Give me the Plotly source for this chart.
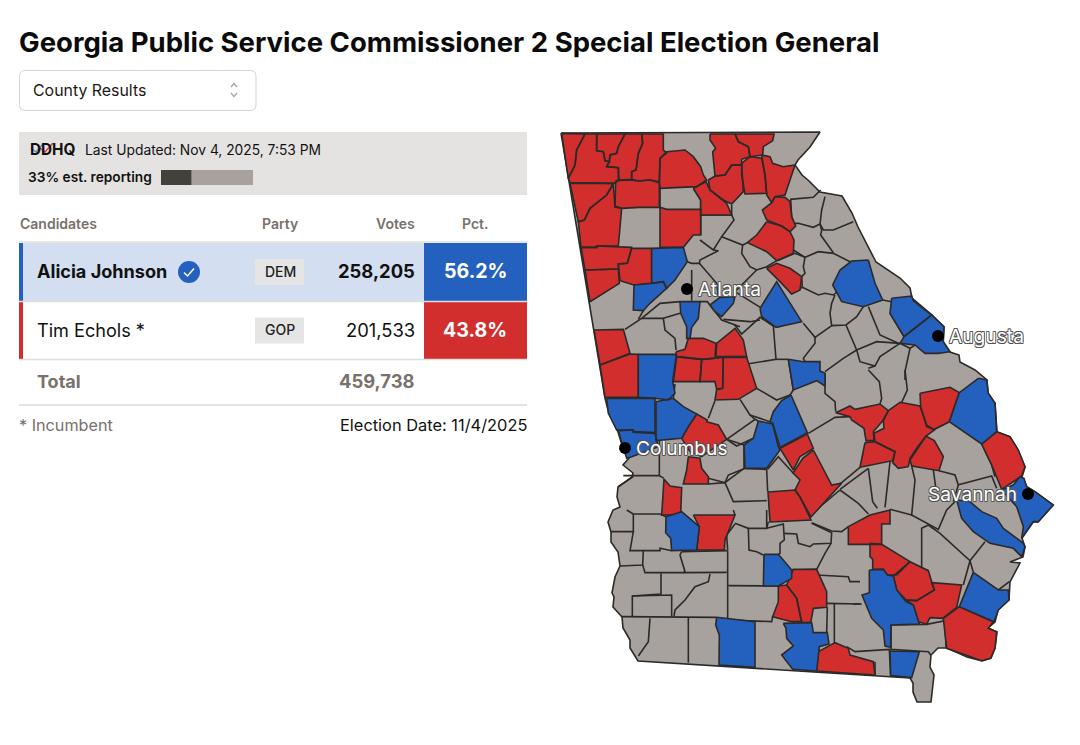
import plotly.graph_objects as go

# ---- table values
title = "Georgia Public Service Commissioner 2 Special Election General"
candidates = ["Alicia Johnson", "Tim Echols *"]
parties = ["DEM", "GOP"]
votes = ["258,205", "201,533"]
pcts = ["56.2%", "43.8%"]
total_votes = "459,738"
reporting = 33
headers = ["Candidates", "Party", "Votes", "Pct."]

# ---- cities
city_names = ["Atlanta", "Augusta", "Columbus", "Savannah"]
city_x = [687, 938, 625, 1028]
city_y = [289, 336, 448, 494]

# ---- map outline
state_outline = [
    (561, 133), (820, 132), (810, 147), (798, 160), (795, 165), (802, 175), (808, 180), (820, 192), (842, 196),
    (852, 213), (858, 227), (867, 245), (876, 262), (900, 278), (910, 288), (912, 298), (932, 315), (944, 327),
    (943, 342), (950, 352), (959, 355), (960, 362), (975, 370), (987, 380), (988, 393), (995, 403), (997, 432),
    (1010, 437), (1018, 450), (1025, 467), (1022, 477), (1027, 487), (1035, 492), (1053, 505), (1038, 522),
    (1033, 522), (1022, 538), (1025, 547), (1023, 557), (1010, 562), (1020, 563), (1010, 582), (1009, 600),
    (998, 610), (995, 622), (988, 628), (997, 632), (995, 648), (991, 658), (982, 661), (967, 657), (947, 648),
    (938, 648), (931, 655), (930, 667), (934, 675), (931, 702), (917, 702), (913, 692), (913, 683), (910, 678),
    (638, 661), (630, 648), (630, 640), (623, 628), (622, 617), (613, 607), (614, 597), (612, 593), (615, 577),
    (620, 566), (618, 552), (611, 542), (611, 532), (608, 522), (613, 510), (620, 507), (617, 497), (618, 487),
    (632, 477), (633, 473), (623, 465), (630, 457), (623, 448), (618, 432), (608, 410), (605, 398),
]

# counties per crop of the map, each as points in 3x crop pixels
red_a = [
    [(35, 40), (105, 42), (80, 90), (75, 135), (55, 175)],
    [(105, 42), (140, 42), (140, 92), (160, 95), (165, 122), (178, 125), (170, 140), (205, 143), (205, 180), (195, 190), (60, 188), (55, 175), (75, 135), (80, 90)],
    [(140, 42), (225, 42), (205, 80), (200, 100), (180, 105), (178, 125), (165, 122), (160, 95), (140, 92)],
    [(225, 42), (275, 42), (278, 70), (265, 100), (258, 150), (245, 155), (245, 178), (207, 180), (205, 143), (170, 140), (178, 125), (180, 105), (200, 100), (205, 80)],
    [(275, 42), (340, 42), (340, 90), (350, 98), (330, 115), (328, 185), (300, 180), (265, 183), (245, 178), (245, 155), (258, 150), (265, 100), (278, 70)],
    [(330, 115), (350, 95), (405, 90), (430, 110), (452, 140), (460, 165), (470, 180), (440, 200), (330, 205), (328, 185)],
    [(60, 190), (190, 190), (170, 225), (120, 265), (103, 300), (85, 305)],
    [(190, 192), (195, 262), (215, 265), (208, 330), (205, 378), (140, 378), (140, 382), (93, 382), (85, 305), (103, 300), (120, 265), (170, 225)],
    [(197, 182), (245, 180), (265, 183), (300, 180), (328, 188), (328, 262), (268, 262), (215, 265), (195, 258)],
    [(330, 262), (350, 268), (452, 268), (452, 345), (430, 345), (405, 375), (400, 382), (330, 382)],
    [(430, 205), (468, 185), (480, 210), (530, 250), (545, 285), (452, 285), (452, 240)],
    [(480, 42), (555, 42), (565, 65), (595, 80), (600, 110), (575, 118), (575, 135), (545, 135), (525, 165), (495, 168), (488, 95), (497, 85), (480, 60)],
    [(555, 42), (672, 42), (668, 62), (640, 80), (638, 105), (600, 110), (595, 80), (565, 65)],
    [(475, 180), (495, 168), (525, 165), (545, 135), (575, 135), (580, 215), (545, 252), (520, 240), (480, 210)],
    [(575, 130), (600, 110), (635, 115), (645, 165), (650, 220), (585, 222), (575, 165)],
    [(635, 105), (660, 110), (668, 130), (700, 140), (735, 135), (705, 225), (675, 230), (665, 248), (650, 225), (645, 165)],
    [(675, 230), (705, 232), (720, 245), (725, 290), (737, 318), (720, 335), (695, 318), (650, 300), (637, 270), (665, 248)],
    [(650, 305), (695, 318), (720, 335), (732, 360), (730, 400), (680, 422), (650, 395), (592, 368), (620, 345)],
    [(650, 445), (680, 430), (720, 445), (755, 470), (750, 510), (725, 522), (690, 485)],
    [(93, 382), (140, 382), (140, 378), (245, 382), (232, 430), (205, 432), (205, 447), (105, 450)],
    [(105, 450), (205, 447), (208, 490), (120, 545)],
    [(245, 385), (305, 385), (305, 490), (252, 495), (210, 482), (205, 432), (232, 430)],
]
blue_a = [
    [(305, 385), (400, 382), (412, 425), (375, 480), (350, 505), (340, 485), (305, 490)],
    [(252, 495), (310, 490), (340, 485), (350, 505), (300, 550), (280, 572), (250, 570)],
]
gray_a = [
    [(330, 205), (330, 262)],
    [(430, 205), (452, 240), (452, 345)],
    [(452, 285), (545, 285), (552, 300), (515, 350), (490, 390)],
    [(545, 255), (545, 285)],
    [(515, 350), (578, 375), (592, 368)],
    [(578, 375), (575, 400), (600, 440), (620, 450), (650, 440), (680, 422)],
    [(450, 360), (490, 390), (505, 392), (450, 420), (448, 430), (425, 430), (412, 425)],
    [(448, 430), (500, 490), (505, 530)],
    [(620, 450), (555, 515), (632, 563)],
    [(280, 572), (265, 598)],
    [(120, 545), (205, 490)],
]
red_c = [
    [(12, 60), (100, 58), (120, 130), (30, 165)],
    [(30, 165), (120, 132), (145, 133), (145, 262), (45, 262)],
    [(258, 125), (285, 118), (295, 85), (340, 85), (378, 100), (375, 145), (335, 148), (260, 140)],
    [(260, 140), (335, 148), (330, 215), (250, 215)],
    [(335, 148), (400, 142), (398, 235), (380, 238), (375, 215), (330, 215)],
    [(400, 142), (470, 142), (500, 235), (445, 268), (375, 270), (380, 238), (398, 235)],
    [(378, 140), (380, 100), (435, 55), (460, 90), (470, 140)],
    [(320, 312), (352, 330), (350, 335), (385, 345), (410, 388), (335, 440), (300, 425), (275, 385), (295, 350)],
    [(295, 440), (330, 445), (335, 475), (355, 500), (355, 522), (280, 522), (290, 480)],
    [(222, 507), (240, 528), (275, 533), (272, 615), (215, 615)],
    [(570, 415), (652, 372), (670, 415), (630, 440), (610, 480)],
    [(670, 420), (725, 525), (755, 520), (663, 621), (630, 561), (615, 540), (630, 510), (609, 489), (639, 444)],
    [(534, 546), (615, 540), (630, 561), (663, 630), (540, 636)],
]
blue_c = [
    [(145, 133), (258, 133), (258, 140), (248, 215), (255, 250), (235, 270), (195, 265), (145, 262)],
    [(50, 265), (195, 265), (195, 368), (130, 365), (130, 360), (80, 360), (55, 310)],
    [(85, 362), (130, 360), (130, 367), (195, 370), (200, 390), (205, 410), (125, 440), (110, 445), (100, 415)],
    [(198, 275), (250, 265), (280, 290), (320, 312), (295, 350), (275, 385), (198, 392)],
    [(505, 333), (548, 342), (565, 410), (570, 420), (530, 475), (465, 475), (462, 405), (490, 385)],
    [(603, 255), (652, 368), (570, 412), (548, 340), (540, 335), (550, 305), (575, 272)],
    [(595, 148), (640, 155), (690, 155), (690, 183), (705, 190), (705, 228), (680, 212), (610, 240)],
]
gray_c = [
    [(432, 42), (455, 72), (510, 22), (550, 48), (558, 148), (472, 162)],
    [(558, 48), (570, 50)],
    [(675, 80), (675, 100), (640, 145), (645, 155)],
    [(558, 148), (595, 148)],
    [(500, 235), (560, 270), (600, 255)],
    [(450, 268), (480, 315), (540, 335)],
    [(595, 148), (610, 240), (600, 255)],
    [(355, 325), (375, 272)],
    [(255, 222), (250, 265)],
    [(480, 315), (495, 328), (410, 388), (462, 405), (462, 475), (405, 518), (355, 505)],
    [(495, 328), (505, 333)],
    [(410, 388), (440, 408), (490, 385)],
    [(208, 390), (208, 497), (100, 497)],
    [(208, 390), (275, 378)],
    [(208, 497), (222, 505)],
    [(405, 518), (415, 495), (465, 475), (530, 478), (533, 545)],
    [(533, 478), (565, 440), (610, 490)],
    [(355, 522), (405, 518), (430, 575), (530, 572)],
    [(85, 530), (130, 500)],
]
red_d = [
    [(545, 222), (590, 185), (630, 200), (655, 240), (675, 290), (665, 318), (605, 358), (575, 285)],
    [(360, 70), (450, 52), (478, 68), (448, 155), (403, 178), (380, 170), (362, 110)],
    [(107, 128), (150, 108), (165, 118), (240, 102), (265, 122), (250, 150), (220, 185), (222, 212), (198, 212), (192, 175), (155, 150), (150, 140)],
    [(265, 122), (300, 97), (360, 108), (380, 165), (403, 180), (378, 198), (350, 235), (330, 265), (325, 290), (295, 295), (278, 278), (285, 245), (225, 215), (222, 190), (252, 175), (250, 150)],
    [(195, 218), (225, 215), (285, 245), (278, 272), (180, 292)],
    [(330, 270), (350, 240), (378, 198), (403, 212), (430, 260), (417, 302), (335, 288)],
]
blue_d = [
    [(535, 25), (560, 30), (565, 70), (585, 100), (590, 185), (545, 222), (448, 155), (478, 68)],
    [(640, 345), (660, 320), (672, 325), (680, 350), (705, 365), (760, 405), (715, 455), (700, 455), (665, 505), (670, 470), (650, 410), (605, 360)],
    [(470, 390), (510, 395), (545, 425), (590, 445), (610, 475), (670, 520), (675, 530), (665, 560), (640, 535), (570, 520), (520, 485), (485, 445)],
]
gray_d = [
    [(473, 345), (575, 318), (590, 355)],
    [(403, 178), (448, 155)],
    [(545, 222), (575, 285), (585, 320)],
    [(335, 288), (345, 330), (335, 435), (415, 478), (440, 420), (470, 390)],
    [(400, 300), (408, 358)],
    [(417, 302), (465, 315), (475, 345), (460, 395)],
    [(270, 275), (255, 412)],
    [(205, 295), (218, 395), (232, 415)],
    [(270, 418), (335, 435)],
    [(120, 358), (205, 295)],
    [(120, 360), (175, 400), (205, 432)],
    [(35, 458), (95, 483), (125, 485), (145, 470)],
    [(30, 435), (120, 360)],
    [(25, 190), (105, 142), (150, 140)],
    [(180, 292), (125, 338), (95, 350)],
    [(75, 10), (75, 70), (105, 95), (107, 125)],
    [(205, 0), (238, 35), (245, 85), (240, 102)],
    [(315, 0), (322, 60), (305, 97)],
]
blue_b = [
    [(205, 240), (155, 243), (120, 270), (98, 315), (125, 365), (190, 380), (248, 360), (225, 310)],
    [(275, 355), (335, 348), (340, 362), (395, 405), (312, 470), (270, 400)],
    [(312, 470), (395, 405), (432, 440), (430, 485), (450, 515), (415, 520), (375, 520), (345, 495), (300, 490)],
]
gray_b = [
    [(248, 360), (275, 365)],
    [(205, 380), (240, 465), (295, 490)],
    [(270, 400), (312, 470)],
    [(190, 380), (170, 410), (138, 435), (95, 437)],
    [(105, 345), (95, 370), (90, 400), (95, 437), (45, 472), (10, 430)],
    [(138, 435), (170, 510), (230, 485), (300, 490)],
    [(170, 510), (130, 535), (75, 575)],
    [(170, 510), (180, 545), (225, 558), (240, 530), (300, 490)],
    [(225, 558), (205, 565)],
    [(300, 490), (330, 505), (345, 495)],
    [(330, 505), (315, 575), (315, 600)],
]
gray_g = [
    [(60, 88), (130, 82), (152, 60)],
    [(62, 88), (65, 140), (72, 160), (85, 160), (130, 172), (150, 162)],
    [(165, 80), (155, 120), (150, 162), (160, 180), (190, 180), (250, 155)],
    [(150, 162), (155, 180), (152, 195), (190, 248)],
    [(70, 240), (105, 262), (145, 245), (190, 250), (240, 275)],
    [(22, 272), (75, 250), (105, 262), (100, 290), (105, 310), (95, 320), (97, 352)],
    [(97, 352), (145, 375), (165, 370), (190, 375), (205, 362)],
    [(62, 372), (97, 352)],
]
blue_h = [
    [(180, 95), (240, 95), (235, 145), (215, 172), (210, 205), (200, 205), (200, 170), (182, 130)],
    [(270, 105), (300, 82), (345, 80), (340, 100), (305, 140), (285, 125)],
    [(420, 115), (470, 35), (545, 155), (468, 172), (425, 140)],
]
gray_h = [
    [(215, 0), (215, 92)],
    [(180, 95), (120, 100), (65, 145), (15, 178)],
    [(65, 145), (130, 145), (135, 180), (165, 205), (168, 240)],
    [(130, 145), (180, 130)],
    [(240, 95), (262, 95), (305, 150), (360, 170)],
    [(310, 148), (390, 155), (420, 150)],
]
red_e = [
    [(280, 15), (405, 15), (375, 90), (373, 120), (290, 120), (298, 50)],
    [(535, 228), (560, 225), (590, 265), (605, 335), (575, 335), (518, 320), (535, 275)],
    [(560, 225), (580, 178), (650, 178), (680, 245), (680, 292), (640, 295), (632, 338), (605, 338), (590, 265)],
]
blue_e = [
    [(198, 20), (245, 5), (298, 50), (290, 120), (215, 122), (212, 85), (197, 68)],
    [(492, 133), (535, 133), (575, 180), (575, 205), (535, 228), (490, 228)],
    [(350, 322), (465, 335), (465, 472), (357, 465), (358, 375), (347, 345)],
    [(550, 340), (635, 338), (640, 368), (682, 368), (687, 402), (658, 410), (650, 483), (578, 478), (545, 435), (580, 408), (560, 385), (558, 355)],
]
gray_e = [
    [(100, 12), (100, 65), (33, 65)],
    [(100, 12), (180, 12), (198, 20)],
    [(80, 0), (100, 12)],
    [(100, 65), (90, 122), (180, 122), (180, 115), (215, 122)],
    [(130, 122), (128, 165), (60, 168)],
    [(128, 165), (135, 188), (250, 188), (255, 185), (240, 135), (245, 125)],
    [(250, 188), (380, 187)],
    [(245, 125), (383, 122)],
    [(383, 122), (383, 330)],
    [(183, 190), (183, 252), (97, 258), (97, 320)],
    [(97, 258), (215, 255), (215, 320)],
    [(65, 320), (350, 322)],
    [(150, 325), (145, 395), (115, 438)],
    [(265, 322), (265, 458)],
    [(330, 192), (325, 215), (285, 230), (255, 270), (225, 300), (222, 318)],
    [(385, 227), (535, 228)],
    [(383, 330), (515, 335), (518, 320)],
    [(383, 120), (380, 75), (405, 42)],
    [(405, 40), (445, 55), (500, 55), (505, 35)],
    [(445, 55), (447, 120), (470, 125), (490, 135)],
    [(500, 55), (550, 42), (553, 90), (540, 100), (540, 130), (535, 133)],
    [(553, 70), (590, 72), (595, 100), (630, 110), (640, 102), (693, 100), (695, 68), (635, 40)],
    [(693, 100), (675, 130), (650, 178)],
    [(575, 180), (650, 178)],
    [(650, 195), (745, 200), (750, 215), (780, 215)],
    [(680, 280), (780, 282)],
    [(682, 292), (680, 368)],
    [(703, 282), (703, 400)],
    [(400, 0), (405, 15)],
    [(500, 0), (500, 55)],
]
red_f = [
    [(145, 50), (210, 15), (270, 0), (270, 42), (245, 42), (245, 103), (145, 103)],
    [(210, 100), (245, 103), (330, 155), (290, 195), (262, 195), (250, 178), (218, 178), (218, 148), (210, 140)],
    [(330, 155), (385, 182), (395, 215), (403, 240), (350, 272), (318, 270), (290, 240), (280, 198)],
    [(395, 218), (485, 225), (470, 292), (428, 325), (390, 323), (380, 343), (355, 335), (340, 285), (318, 270), (350, 272), (403, 240)],
    [(430, 325), (478, 290), (580, 335), (565, 355), (590, 365), (585, 415), (572, 445), (545, 452), (440, 415)],
    [(55, 425), (105, 398), (145, 415), (150, 435), (220, 455), (225, 495), (50, 483)],
]
blue_f = [
    [(520, 187), (595, 240), (625, 240), (627, 270), (595, 300), (582, 335), (478, 290)],
    [(208, 180), (250, 178), (262, 195), (280, 198), (290, 240), (318, 275), (340, 285), (358, 342), (273, 345), (272, 412), (255, 408), (250, 360), (215, 325), (186, 255), (208, 248)],
    [(270, 423), (358, 425), (335, 503), (272, 497)],
]
gray_f = [
    [(273, 345), (380, 343), (435, 332), (438, 412)],
    [(273, 345), (273, 418), (385, 425), (392, 435)],
    [(160, 282), (185, 282)],
    [(140, 410), (165, 425), (268, 418), (272, 497)],
    [(225, 455), (225, 495)],
    [(385, 45), (420, 70), (510, 152), (490, 225)],
    [(510, 152), (555, 95)],
    [(510, 152), (520, 187)],
    [(595, 240), (628, 215)],
    [(385, 45), (365, 55), (365, 175), (385, 182)],
]

# crop origin for each group of traced counties
crop_a = (550, 120)
crop_b = (800, 180)
crop_c = (590, 310)
crop_d = (800, 370)
crop_e = (600, 510)
crop_f = (800, 510)
crop_g = (770, 170)
crop_h = (620, 270)

RED = "#d32e2e"
BLUE = "#2461bf"
LAND = "#a8a29e"
EDGE = "#2b2a29"
GREY_TEXT = "#78716c"
FONT = "Inter"


def to_page(groups):
    # flatten (origin, polygons) pairs into x/y lists split by None
    xs, ys = [], []
    for origin, polys in groups:
        for poly in polys:
            for px_, py_ in poly:
                xs.append(origin[0] + px_ / 3)
                ys.append(origin[1] + py_ / 3)
            xs.append(None)
            ys.append(None)
    return xs, ys


def add_polys(fig, groups, color):
    xs, ys = [], []
    for origin, polys in groups:
        closed = [list(p) + [p[0]] for p in polys]
        x, y = to_page([(origin, closed)])
        xs += x
        ys += y
    fig.add_trace(go.Scatter(x=xs, y=ys, mode="lines", fill="toself", fillcolor=color,
                             line=dict(color=EDGE, width=1.6), hoverinfo="skip"))


def label(fig, x, y, text, size=14, color="#111", bold=False, anchor="left", weight=None, shadow=None):
    f = dict(family=FONT, size=size, color=color, weight=weight or (700 if bold else 400))
    if shadow:
        f["shadow"] = shadow
    fig.add_annotation(x=x, y=y, text=text, showarrow=False, xanchor=anchor, yanchor="middle",
                       font=f, xref="x", yref="y", borderpad=0, borderwidth=0)


def box(fig, x0, y0, x1, y1, fill, line=None):
    fig.add_shape(type="rect", x0=x0, y0=y0, x1=x1, y1=y1, fillcolor=fill,
                  line=dict(color=line or fill, width=1 if line else 0), layer="below")


def rule(fig, x0, y0, x1, y1, color, width=1.5):
    fig.add_shape(type="line", x0=x0, y0=y0, x1=x1, y1=y1, line=dict(color=color, width=width))


fig = go.Figure()

# ---- map
state_x = [p[0] for p in state_outline] + [state_outline[0][0]]
state_y = [p[1] for p in state_outline] + [state_outline[0][1]]
fig.add_trace(go.Scatter(x=state_x, y=state_y, mode="lines", fill="toself", fillcolor=LAND,
                         line=dict(color=EDGE, width=1.6), hoverinfo="skip"))
gx, gy = to_page([(crop_a, gray_a), (crop_b, gray_b), (crop_c, gray_c), (crop_d, gray_d),
                  (crop_e, gray_e), (crop_f, gray_f), (crop_g, gray_g), (crop_h, gray_h)])
fig.add_trace(go.Scatter(x=gx, y=gy, mode="lines", line=dict(color=EDGE, width=1.6), hoverinfo="skip"))
add_polys(fig, [(crop_a, red_a), (crop_c, red_c), (crop_d, red_d), (crop_e, red_e), (crop_f, red_f)], RED)
add_polys(fig, [(crop_a, blue_a), (crop_b, blue_b), (crop_c, blue_c), (crop_d, blue_d),
                (crop_e, blue_e), (crop_f, blue_f), (crop_h, blue_h)], BLUE)

fig.add_trace(go.Scatter(x=city_x, y=city_y, mode="markers", marker=dict(color="#000", size=12), hoverinfo="skip"))
halo = ", ".join(f"{a}px {b}px 0 #555" for a in (-0.7, 0, 0.7) for b in (-0.7, 0, 0.7))
for name, cx, cy in zip(city_names, city_x, city_y):
    if name == "Savannah":
        label(fig, cx - 11, cy, name, size=19.2, color="#fff", anchor="right", shadow=halo)
    else:
        label(fig, cx + 11, cy, name, size=19.2, color="#fff", shadow=halo)

# ---- title and dropdown
label(fig, 19, 42, title, size=27.5, color="#0b0b0b", bold=True)
fig.add_shape(type="path", path="M 25 70.5 L 250 70.5 Q 256 70.5 256 76.5 L 256 104.5 Q 256 110.5 250 110.5 "
                                "L 25 110.5 Q 19.5 110.5 19.5 104.5 L 19.5 76.5 Q 19.5 70.5 25 70.5 Z",
              line=dict(color="#d6d3d1", width=1), fillcolor="#fff", layer="below")
label(fig, 33, 90, "County Results", size=15.9, color="#1c1917")
fig.add_shape(type="path", path="M 231 87 L 234 83.5 L 237 87", line=dict(color="#a8a29e", width=1.2))
fig.add_shape(type="path", path="M 231 93 L 234 96.5 L 237 93", line=dict(color="#a8a29e", width=1.2))

# ---- status strip
box(fig, 19, 132, 527, 195, "#e5e3e1")
label(fig, 30, 149.5, "DDHQ", size=15.3, color="#111", bold=True)
fig.add_shape(type="path", path="M 31 148 L 36 152 L 43 144", line=dict(color="#5b8fd6", width=1.6))
fig.add_shape(type="path", path="M 40 148 L 45 152 L 53 143", line=dict(color="#d64545", width=1.6))
label(fig, 85, 149.5, "Last Updated: Nov 4, 2025, 7:53 PM", size=13.8, color="#111")
label(fig, 28, 177, "33% est. reporting", size=13.7, color="#111", weight=600)
bar_x0, bar_x1 = 161, 253
box(fig, bar_x0, 170, bar_x1, 185, "#a8a29e")
box(fig, bar_x0, 170, bar_x0 + (bar_x1 - bar_x0) * reporting / 100, 185, "#44403c")

# ---- table
label(fig, 20, 223.5, headers[0], size=14, color=GREY_TEXT, weight=600)
label(fig, 280, 223.5, headers[1], size=14, color=GREY_TEXT, weight=600, anchor="center")
label(fig, 414.5, 223.5, headers[2], size=14, color=GREY_TEXT, weight=600, anchor="right")
label(fig, 475, 223.5, headers[3], size=14, color=GREY_TEXT, weight=600, anchor="center")

row_top = [243, 302]
row_bottom = [301, 359]
row_fill = ["#d3dff1", "#ffffff"]
row_color = [BLUE, RED]
for i in range(2):
    mid = (row_top[i] + row_bottom[i]) / 2
    box(fig, 19, row_top[i], 527, row_bottom[i], row_fill[i])
    box(fig, 19, row_top[i], 23, row_bottom[i], row_color[i])
    box(fig, 424, row_top[i], 527, row_bottom[i], row_color[i])
    label(fig, 37, mid - 1, candidates[i], size=18.1, color="#111", bold=i == 0, weight=700 if i == 0 else 400)
    box(fig, 255, mid - 13, 304, mid + 13, "#e5e5e5")
    label(fig, 280, mid - 1, parties[i], size=14, color="#222", weight=500, anchor="center")
    label(fig, 414.5, mid - 1, votes[i], size=18.4, color="#111", anchor="right", weight=700 if i == 0 else 400)
    label(fig, 475, mid - 1, pcts[i], size=19.6, color="#fff", bold=True, anchor="center")

rule(fig, 19, 242, 527, 242, "#e0dedc")
rule(fig, 19, 301.5, 527, 301.5, "#e0dedc")
rule(fig, 19, 359.5, 527, 359.5, "#e0dedc")
rule(fig, 19, 405, 527, 405, "#dcdad8")

fig.add_shape(type="circle", x0=178, y0=261, x1=200, y1=283, fillcolor=BLUE, line=dict(width=0))
fig.add_shape(type="path", path="M 184 272.5 L 187.5 276 L 194 268.5", line=dict(color="#fff", width=1.5))

label(fig, 37, 381, "Total", size=18, color=GREY_TEXT, bold=True)
label(fig, 414.5, 381, total_votes, size=18.4, color=GREY_TEXT, bold=True, anchor="right")
label(fig, 19, 425, "* Incumbent", size=16.2, color=GREY_TEXT)
label(fig, 527, 425, "Election Date: 11/4/2025", size=16.4, color="#111", anchor="right")

fig.update_xaxes(range=[0, 1080], visible=False, fixedrange=True)
fig.update_yaxes(range=[745, 0], visible=False, fixedrange=True)
fig.update_layout(width=1080, height=745, margin=dict(l=0, r=0, t=0, b=0), showlegend=False,
                  plot_bgcolor="#fff", paper_bgcolor="#fff")

fig.write_html("out.html", config={"displayModeBar": False},
               post_script="document.body.style.margin='0';document.body.style.overflow='hidden';")
